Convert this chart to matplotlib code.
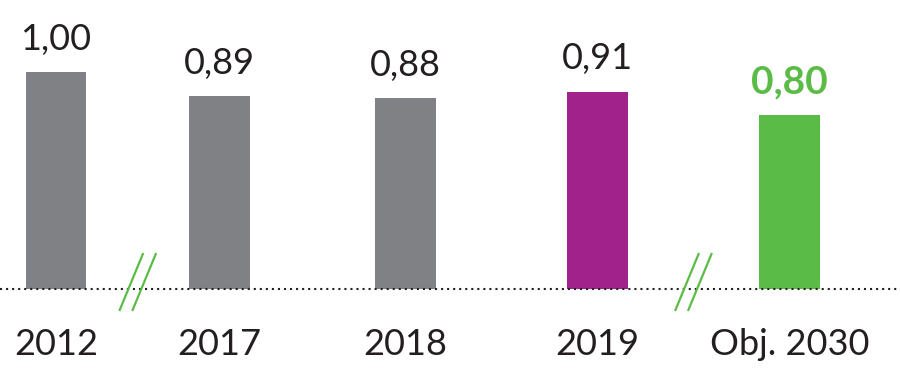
import matplotlib
matplotlib.use("Agg")
import matplotlib.pyplot as plt

# ---- data ----
categories = ["2012", "2017", "2018", "2019", "Obj. 2030"]
values = [1.00, 0.89, 0.88, 0.91, 0.80]
value_labels = ["1,00", "0,89", "0,88", "0,91", "0,80"]

# ---- style / layout ----
colors = ["#808184", "#808184", "#808184", "#A0228A", "#5BBB47"]
label_colors = ["#231F20", "#231F20", "#231F20", "#231F20", "#5BBB47"]
label_weights = ["normal", "normal", "normal", "normal", "bold"]
positions = [0, 0.86, 1.84, 2.85, 3.86]
bar_width = 0.32
break_after = [0, 3]   # axis break marks between these bars and the next
text_color = "#231F20"
plt.rcParams["font.family"] = ["Lato", "DejaVu Sans"]

fig = plt.figure(figsize=(9, 3.88), dpi=100)
ax = fig.add_axes([0, 0, 1, 1])
ax.set_xlim(-0.295, 4.442)
ax.set_ylim(-0.456, 1.332)
ax.axis("off")

ax.bar(positions, values, width=bar_width, color=colors, zorder=2)

ax.axhline(0, color=text_color, linestyle=(0, (1, 1.9)), linewidth=1.5, zorder=3)

for x, v, lab, c, w in zip(positions, values, value_labels, label_colors, label_weights):
    ax.annotate(lab, (x, v), xytext=(0, 16), textcoords="offset points",
                ha="center", va="baseline", fontsize=26 if w == "normal" else 28,
                color=c, fontweight=w)

for x, cat in zip(positions, categories):
    ax.text(x, -0.304, cat, ha="center", va="baseline", fontsize=26, color=text_color)

# break marks
for i in break_after:
    mid = (positions[i] + positions[i + 1]) / 2
    for off in (-0.034, 0.034):
        cx = mid + off
        ax.plot([cx - 0.063, cx + 0.063], [-0.101, 0.166], color="#5BBB47",
                linewidth=1.6, solid_capstyle="butt", zorder=4)

fig.savefig("out.png", dpi=100)
